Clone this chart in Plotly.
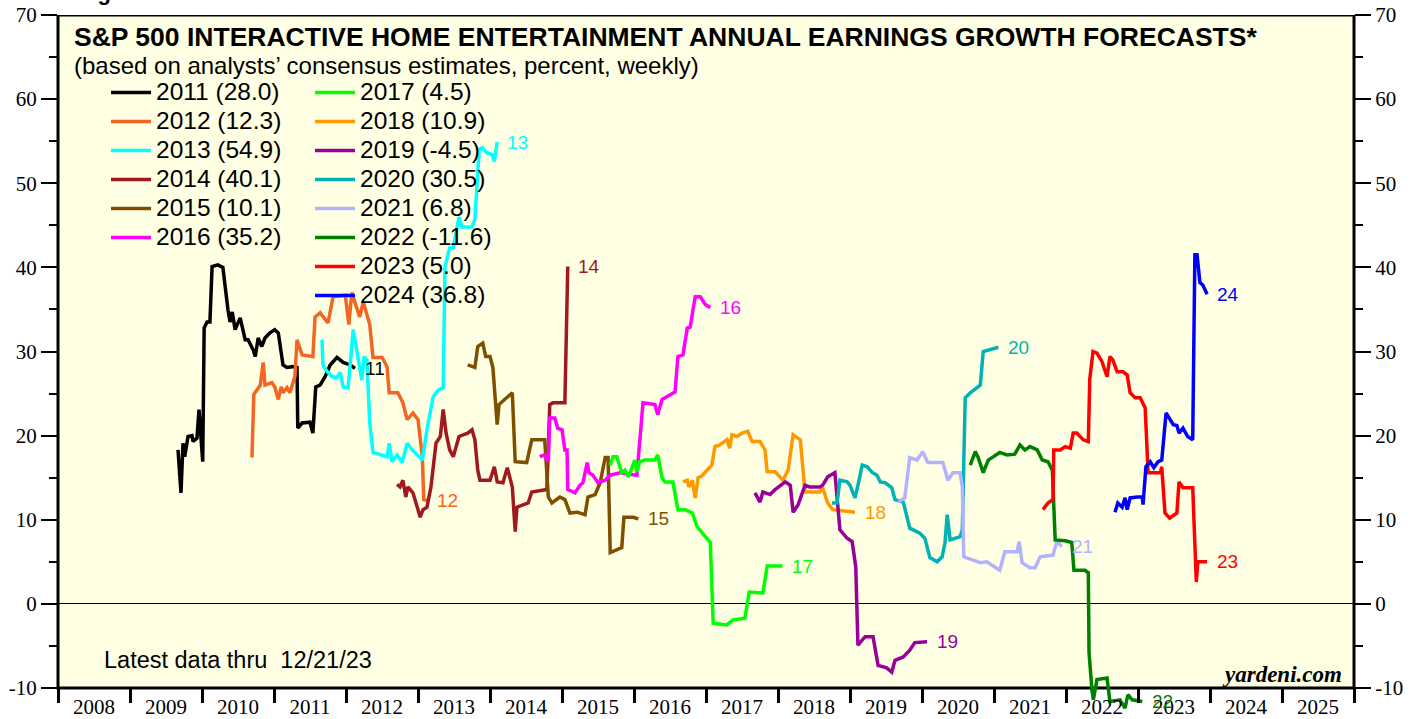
import plotly.graph_objects as go

# ---------------- data (decimal year, percent) ----------------
x2011 = [2009.667, 2009.708, 2009.736, 2009.76, 2009.806, 2009.861, 2009.875, 2009.93, 2009.958, 2009.99,
         2010.01, 2010.03, 2010.07, 2010.11, 2010.14, 2010.22, 2010.29, 2010.36, 2010.39, 2010.42,
         2010.46, 2010.53, 2010.60, 2010.64, 2010.71, 2010.74, 2010.78, 2010.83, 2010.875, 2010.94,
         2011.01, 2011.06, 2011.125, 2011.18, 2011.26, 2011.32, 2011.33, 2011.39, 2011.50, 2011.54,
         2011.58, 2011.64, 2011.71, 2011.78, 2011.875, 2011.96, 2012.06, 2012.125]
y2011 = [18.3, 13.2, 19.1, 17.5, 19.9, 20.0, 19.3, 19.7, 23.1, 20.0,
         16.9, 32.8, 33.5, 33.5, 40.1, 40.3, 40.0, 35.0, 33.5, 34.7,
         32.6, 34.0, 31.4, 31.4, 30.2, 29.4, 31.6, 30.6, 31.6, 32.2,
         32.6, 32.2, 28.4, 28.1, 28.2, 28.1, 20.9, 21.5, 21.6, 20.3,
         25.8, 26.0, 27.0, 28.4, 29.3, 28.7, 28.4, 28.0]

x2012 = [2010.694, 2010.72, 2010.76, 2010.81, 2010.85, 2010.875, 2010.97, 2011.01, 2011.06, 2011.10,
         2011.125, 2011.18, 2011.22, 2011.26, 2011.29, 2011.32, 2011.36, 2011.39, 2011.54, 2011.57,
         2011.64, 2011.75, 2011.82, 2011.99, 2012.04, 2012.08, 2012.19, 2012.24, 2012.33, 2012.375,
         2012.50, 2012.57, 2012.60, 2012.72, 2012.79, 2012.85, 2012.93, 2013.00, 2013.06, 2013.08,
         2013.125]
y2012 = [17.4, 24.9, 25.4, 26.0, 28.7, 26.0, 26.3, 25.8, 24.3, 25.8,
         25.1, 25.7, 25.1, 26.3, 27.0, 31.4, 30.2, 29.6, 29.4, 34.1,
         34.6, 33.4, 36.5, 36.7, 33.2, 37.0, 34.1, 35.9, 33.2, 29.3,
         29.3, 28.2, 25.1, 25.1, 23.9, 21.9, 22.7, 21.9, 17.5, 12.4,
         12.3]

x2013 = [2011.667, 2011.68, 2011.74, 2011.81, 2011.875, 2011.92, 2011.96, 2012.03, 2012.10, 2012.125,
         2012.17, 2012.22, 2012.25, 2012.29, 2012.33, 2012.375, 2012.57, 2012.60, 2012.64, 2012.71,
         2012.78, 2012.85, 2012.92, 2013.06, 2013.125, 2013.21, 2013.28, 2013.35, 2013.375, 2013.44,
         2013.49, 2013.54, 2013.57, 2013.61, 2013.75, 2013.79, 2013.85, 2013.89, 2013.96, 2014.03,
         2014.06, 2014.10]
y2013 = [31.4, 28.4, 27.6, 27.0, 26.9, 27.5, 25.8, 25.7, 32.6, 31.4,
         29.0, 26.6, 29.4, 29.0, 21.5, 18.0, 17.5, 19.1, 16.9, 17.7,
         16.8, 19.1, 18.3, 17.1, 20.7, 24.6, 25.4, 25.7, 40.1, 42.3,
         42.3, 44.9, 46.0, 44.8, 44.8, 45.7, 54.0, 54.2, 53.6, 53.4,
         52.6, 54.9]

x2014 = [2012.71, 2012.75, 2012.79, 2012.83, 2012.86, 2012.93, 2012.99, 2013.03, 2013.07, 2013.125,
         2013.18, 2013.21, 2013.25, 2013.31, 2013.35, 2013.39, 2013.44, 2013.49, 2013.57, 2013.69,
         2013.75, 2013.79, 2013.83, 2013.86, 2014.00, 2014.06, 2014.10, 2014.18, 2014.24, 2014.31,
         2014.35, 2014.375, 2014.53, 2014.58, 2014.79, 2014.83, 2014.875, 2015.04, 2015.08]
y2014 = [14.2, 13.9, 14.7, 12.7, 13.9, 13.2, 11.5, 10.3, 11.2, 11.5,
         13.9, 16.3, 19.1, 19.9, 23.1, 20.3, 18.3, 17.5, 19.9, 20.3,
         20.7, 19.5, 15.9, 14.7, 14.7, 16.3, 14.5, 14.4, 16.2, 13.9,
         8.6, 11.5, 12.0, 13.3, 13.6, 23.7, 23.9, 23.9, 40.1]

x2015 = [2013.69, 2013.79, 2013.83, 2013.90, 2013.94, 2014.00, 2014.04, 2014.10, 2014.125, 2014.21,
         2014.31, 2014.35, 2014.51, 2014.58, 2014.76, 2014.81, 2014.86, 2014.97, 2015.04, 2015.11,
         2015.21, 2015.32, 2015.36, 2015.46, 2015.53, 2015.60, 2015.64, 2015.67, 2015.83, 2015.86,
         2015.99, 2016.06]
y2015 = [28.4, 28.1, 30.6, 31.0, 29.4, 29.4, 28.1, 21.3, 23.7, 24.3,
         25.1, 16.9, 16.8, 19.5, 19.5, 12.7, 12.0, 12.7, 12.4, 10.8,
         10.9, 10.6, 12.7, 13.0, 14.4, 17.4, 17.4, 6.1, 6.7, 10.3,
         10.3, 10.1]

x2016 = [2014.69, 2014.76, 2014.81, 2014.83, 2014.90, 2014.94, 2015.00, 2015.04, 2015.07, 2015.08,
         2015.18, 2015.25, 2015.29, 2015.35, 2015.375, 2015.43, 2015.50, 2015.60, 2015.67, 2015.81,
         2016.04, 2016.125, 2016.29, 2016.33, 2016.39, 2016.50, 2016.57, 2016.61, 2016.68, 2016.74,
         2016.78, 2016.85, 2016.92, 2016.99, 2017.06]
y2016 = [17.5, 17.7, 16.9, 22.1, 22.1, 20.9, 20.7, 18.3, 18.3, 13.6,
         13.2, 14.1, 14.4, 16.8, 15.6, 15.3, 14.4, 14.7, 15.3, 15.6,
         15.3, 23.9, 23.7, 22.5, 24.3, 24.9, 25.2, 29.4, 29.6, 32.8,
         32.9, 36.5, 36.5, 35.6, 35.2]

x2017 = [2015.67, 2015.71, 2015.76, 2015.83, 2015.875, 2015.92, 2015.96, 2016.01, 2016.04, 2016.08,
         2016.15, 2016.29, 2016.33, 2016.39, 2016.43, 2016.54, 2016.61, 2016.71, 2016.81, 2016.875,
         2016.99, 2017.06, 2017.10, 2017.29, 2017.375, 2017.54, 2017.60, 2017.79, 2017.85, 2018.06]
y2017 = [16.5, 17.5, 17.5, 15.6, 15.9, 15.1, 15.9, 17.1, 15.7, 16.9,
         17.1, 17.1, 17.7, 15.0, 14.5, 14.5, 11.2, 11.2, 10.8, 9.2,
         8.0, 7.3, -2.3, -2.5, -1.9, -1.7, 1.4, 1.3, 4.5, 4.5]

x2018 = [2016.68, 2016.74, 2016.76, 2016.81, 2016.85, 2016.89, 2016.94, 2017.01, 2017.08, 2017.125,
         2017.19, 2017.29, 2017.33, 2017.36, 2017.43, 2017.50, 2017.58, 2017.64, 2017.75, 2017.82,
         2017.85, 2017.96, 2018.07, 2018.14, 2018.21, 2018.31, 2018.375, 2018.58, 2018.62, 2018.69,
         2018.76, 2019.07]
y2018 = [14.5, 14.7, 13.9, 14.7, 12.6, 15.0, 15.2, 15.9, 16.5, 18.7,
         18.9, 19.5, 18.5, 20.1, 19.9, 20.3, 20.5, 19.3, 19.3, 18.3,
         15.7, 15.7, 14.7, 15.9, 20.1, 19.5, 13.3, 13.3, 13.8, 12.0,
         11.2, 10.9]

x2019 = [2017.68, 2017.75, 2017.79, 2017.89, 2017.96, 2018.03, 2018.10, 2018.17, 2018.21, 2018.28,
         2018.375, 2018.44, 2018.58, 2018.62, 2018.69, 2018.79, 2018.86, 2018.96, 2019.03, 2019.08,
         2019.11, 2019.21, 2019.32, 2019.39, 2019.51, 2019.58, 2019.625, 2019.74, 2019.83, 2019.90,
         2020.07]
y2019 = [13.2, 12.1, 13.3, 13.0, 13.6, 14.1, 14.5, 14.1, 10.9, 11.8,
         14.1, 13.9, 13.9, 14.1, 15.1, 15.6, 8.8, 7.8, 7.4, 4.4,
         -4.9, -3.9, -3.9, -7.3, -7.6, -8.1, -6.7, -6.3, -5.5, -4.6,
         -4.5]

x2020 = [2018.75, 2018.82, 2018.86, 2018.96, 2019.00, 2019.07, 2019.11, 2019.17, 2019.24, 2019.31,
         2019.375, 2019.42, 2019.49, 2019.58, 2019.625, 2019.74, 2019.83, 2019.97, 2020.04, 2020.11,
         2020.21, 2020.28, 2020.32, 2020.35, 2020.39, 2020.53, 2020.56, 2020.60, 2020.67, 2020.76,
         2020.81, 2020.85, 2021.06]
y2020 = [12.0, 12.0, 14.7, 14.5, 14.1, 12.6, 14.1, 16.5, 16.3, 15.6,
         15.3, 14.5, 14.4, 13.8, 12.4, 12.1, 9.0, 8.4, 7.8, 5.5,
         5.0, 5.6, 7.3, 10.6, 7.6, 8.0, 8.8, 24.5, 25.1, 25.7,
         26.0, 30.0, 30.5]

x2021 = [2019.67, 2019.76, 2019.83, 2019.93, 2020.01, 2020.08, 2020.29, 2020.36, 2020.43, 2020.53,
         2020.56, 2020.58, 2020.71, 2020.81, 2020.90, 2021.08, 2021.15, 2021.32, 2021.35, 2021.39,
         2021.50, 2021.57, 2021.64, 2021.82, 2021.875, 2021.94]
y2021 = [12.1, 12.6, 17.4, 17.1, 18.1, 16.8, 16.8, 14.7, 15.6, 15.6,
         13.9, 5.6, 5.2, 4.9, 5.0, 4.0, 6.2, 6.2, 7.4, 4.9,
         4.3, 4.3, 5.6, 5.8, 7.5, 6.8]

x2022 = [2020.67, 2020.74, 2020.78, 2020.85, 2020.92, 2020.99, 2021.08, 2021.18, 2021.29, 2021.36,
         2021.43, 2021.50, 2021.60, 2021.67, 2021.75, 2021.81, 2021.85, 2021.99, 2022.08, 2022.11,
         2022.26, 2022.31, 2022.32, 2022.36, 2022.38, 2022.43, 2022.57, 2022.61, 2022.75, 2022.82,
         2022.86, 2022.92, 2023.06]
y2022 = [16.5, 18.1, 17.4, 15.6, 17.1, 17.5, 18.0, 17.7, 17.8, 18.9,
         18.3, 18.7, 18.3, 17.1, 16.9, 15.9, 7.6, 7.5, 7.3, 4.0,
         4.0, 3.7, -5.8, -10.2, -11.4, -9.0, -8.8, -11.6, -11.4, -12.4,
         -10.8, -11.4, -11.6]

x2023 = [2021.68, 2021.75, 2021.82, 2021.83, 2021.92, 2021.99, 2022.06, 2022.10, 2022.15, 2022.24,
         2022.31, 2022.33, 2022.375, 2022.43, 2022.50, 2022.57, 2022.61, 2022.65, 2022.71, 2022.79,
         2022.85, 2022.89, 2022.96, 2023.03, 2023.10, 2023.125, 2023.14, 2023.31, 2023.33, 2023.375,
         2023.44, 2023.54, 2023.57, 2023.625, 2023.76, 2023.81, 2023.83, 2023.96]
y2023 = [11.2, 12.0, 12.4, 18.3, 18.3, 18.7, 18.5, 20.3, 20.3, 19.5,
         19.3, 26.7, 30.0, 29.8, 28.8, 27.0, 29.4, 29.0, 27.6, 27.6,
         27.2, 25.1, 24.5, 24.5, 23.3, 16.9, 15.6, 15.6, 16.3, 10.8,
         10.2, 10.8, 14.5, 13.8, 13.8, 2.6, 5.0, 5.0]

x2024 = [2022.68, 2022.72, 2022.78, 2022.82, 2022.85, 2022.89, 2022.99, 2023.06, 2023.07, 2023.11,
         2023.17, 2023.22, 2023.28, 2023.33, 2023.39, 2023.44, 2023.49, 2023.54, 2023.57, 2023.625,
         2023.69, 2023.76, 2023.79, 2023.82, 2023.86, 2023.90, 2023.96]
y2024 = [10.9, 12.0, 11.5, 12.6, 11.2, 12.6, 12.7, 12.7, 11.8, 16.3,
         16.9, 16.2, 16.9, 17.1, 22.7, 21.9, 21.3, 21.2, 20.3, 20.9,
         19.9, 19.5, 41.5, 41.5, 38.2, 37.9, 36.8]

series_years = ["2011", "2012", "2013", "2014", "2015", "2016", "2017",
                "2018", "2019", "2020", "2021", "2022", "2023", "2024"]
latest_values = [28.0, 12.3, 54.9, 40.1, 10.1, 35.2, 4.5,
                 10.9, -4.5, 30.5, 6.8, -11.6, 5.0, 36.8]
xs_all = [x2011, x2012, x2013, x2014, x2015, x2016, x2017,
          x2018, x2019, x2020, x2021, x2022, x2023, x2024]
ys_all = [y2011, y2012, y2013, y2014, y2015, y2016, y2017,
          y2018, y2019, y2020, y2021, y2022, y2023, y2024]

axis_years = list(range(2008, 2026))
y_ticks = [-10, 0, 10, 20, 30, 40, 50, 60, 70]

# ---------------- style ----------------
colors = ["#000000", "#F26522", "#00FFFF", "#A0191E", "#7F4F00", "#FF00FF", "#00FF00",
          "#FF9900", "#990099", "#00B2B2", "#B2B2FF", "#008000", "#FF0000", "#0000FF"]
SANS = "Liberation Sans, Arial, sans-serif"
SERIF = "Liberation Serif, Times New Roman, serif"
BG = "#FFFFE3"

# geometry of the plot area (pixels)
L, R, T, B = 58, 1354, 15, 712
W_PX, H_PX = 1419, 719
YMIN, YMAX = -12.85, 70
X0, X1 = 2008, 2026
axis_pos = (-10 - YMIN) / (YMAX - YMIN)


def px(xp):
    return (xp - L) / (R - L)


def py(yp):
    return (B - yp) / (B - T)


fig = go.Figure()
for i, (yr, xs, ys, col, lv) in enumerate(zip(series_years, xs_all, ys_all, colors, latest_values)):
    fig.add_trace(go.Scatter(
        x=xs, y=ys, mode="lines",
        line=dict(color=col, width=3.5),
        name=f'<span style="font-size:24.5px">{yr} ({lv:.1f})</span>',
        legend="legend" if i < 6 else "legend2",
        hoverinfo="skip",
    ))
    fig.add_annotation(x=xs[-1], y=ys[-1], xref="x", yref="y", text=yr[2:],
                       showarrow=False, xanchor="left", yanchor="middle", xshift=8,
                       font=dict(family=SANS, size=19, color=col))

# helper traces so the secondary axes (labels / right ticks) are drawn
fig.add_trace(go.Scatter(x=[None], y=[None], xaxis="x2", yaxis="y", showlegend=False, hoverinfo="skip"))
fig.add_trace(go.Scatter(x=[None], y=[None], xaxis="x", yaxis="y2", showlegend=False, hoverinfo="skip"))

yaxis_common = dict(
    range=[YMIN, YMAX], tickvals=y_ticks, ticktext=[str(v) for v in y_ticks],
    ticks="outside", ticklen=16, tickwidth=1.5, tickcolor="black",
    minor=dict(tickvals=[v + 5 for v in y_ticks[:-1]], ticks="outside", ticklen=8,
               tickwidth=1.5, tickcolor="black", showgrid=False),
    showgrid=False, showline=False,
    tickfont=dict(family=SERIF, size=21, color="black"),
    fixedrange=True,
)

fig.update_layout(
    width=W_PX, height=H_PX,
    margin=dict(l=L, r=W_PX - R, t=T, b=H_PX - B, autoexpand=False),
    paper_bgcolor="white", plot_bgcolor="white",
    xaxis=dict(range=[X0, X1], anchor="free", position=axis_pos,
               tickvals=list(range(2008, 2027)), ticks="outside", ticklen=14, tickwidth=3,
               tickcolor="black", showticklabels=False, showgrid=False, zeroline=False,
               showline=False, fixedrange=True),
    xaxis2=dict(range=[X0, X1], overlaying="x", anchor="free", position=axis_pos, side="bottom",
                tickvals=[y + 0.5 for y in axis_years], ticktext=[str(y) for y in axis_years],
                ticks="outside", ticklen=0, tickcolor="rgba(0,0,0,0)",
                tickfont=dict(family=SERIF, size=21, color="black"),
                showgrid=False, zeroline=False, showline=False, fixedrange=True),
    yaxis=dict(**yaxis_common, zeroline=True, zerolinecolor="black", zerolinewidth=1),
    yaxis2=dict(**yaxis_common, overlaying="y", side="right", zeroline=False),
    legend=dict(x=px(106), y=py(73), xanchor="left", yanchor="top", bgcolor="rgba(0,0,0,0)",
                font=dict(family=SANS, size=20, color="black"), itemwidth=40,
                tracegroupgap=0),
    legend2=dict(x=px(310), y=py(73), xanchor="left", yanchor="top", bgcolor="rgba(0,0,0,0)",
                 font=dict(family=SANS, size=20, color="black"), itemwidth=40,
                 tracegroupgap=0),
    shapes=[dict(type="rect", xref="x domain", yref="y", x0=0, x1=1, y0=-10, y1=70,
                 line=dict(color="black", width=3), fillcolor=BG, layer="below")],
)

fig.add_annotation(xref="paper", yref="paper", x=px(72), y=py(37), xanchor="left", yanchor="middle",
                   text="<b>S&P 500 INTERACTIVE HOME ENTERTAINMENT ANNUAL EARNINGS GROWTH FORECASTS*</b>",
                   showarrow=False, font=dict(family=SANS, size=26.5, color="black"))
fig.add_annotation(xref="paper", yref="paper", x=px(72), y=py(65), xanchor="left", yanchor="middle",
                   text="(based on analysts\u2019 consensus estimates, percent, weekly)",
                   showarrow=False, font=dict(family=SANS, size=24, color="black"))
fig.add_annotation(xref="paper", yref="paper", x=px(102), y=py(660), xanchor="left", yanchor="middle",
                   text="Latest data thru  12/21/23",
                   showarrow=False, font=dict(family=SANS, size=23.5, color="black"))
fig.add_annotation(xref="paper", yref="paper", x=px(1344), y=py(674), xanchor="right", yanchor="middle",
                   text="<b><i>yardeni.com</i></b>",
                   showarrow=False, font=dict(family=SERIF, size=23, color="black"))
fig.add_annotation(xref="paper", yref="paper", x=px(76), y=py(7), xanchor="left", yanchor="bottom",
                   text="<b>Figure 8.</b>",
                   showarrow=False, font=dict(family=SANS, size=22, color="black"))

fig.write_html("out.html", post_script="document.body.style.margin='0';",
               config={"displayModeBar": False})
